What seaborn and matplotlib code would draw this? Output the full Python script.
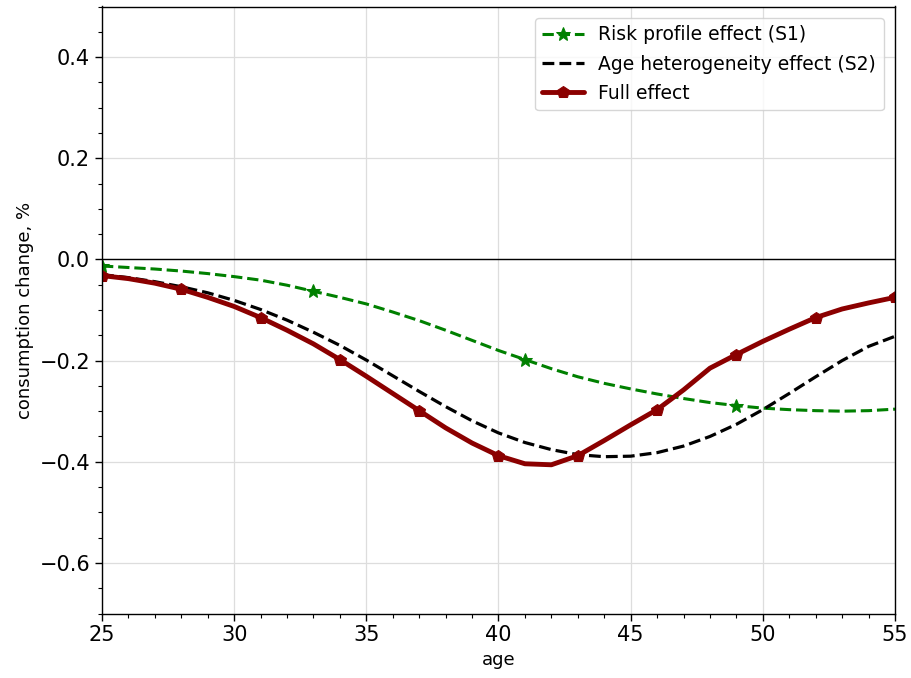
import matplotlib
matplotlib.use("Agg")
import matplotlib.pyplot as plt
import seaborn as sns
import pandas as pd
from matplotlib.ticker import MultipleLocator

ages = list(range(25, 56))

risk_profile_s1 = [-0.013, -0.016, -0.019, -0.023, -0.028, -0.034, -0.041, -0.051,
                   -0.063, -0.075, -0.088, -0.104, -0.121, -0.140, -0.160, -0.180,
                   -0.198, -0.216, -0.232, -0.245, -0.256, -0.266, -0.275, -0.283,
                   -0.289, -0.294, -0.297, -0.299, -0.300, -0.299, -0.296]

age_hetero_s2 = [-0.030, -0.036, -0.044, -0.054, -0.066, -0.081, -0.099, -0.120,
                 -0.144, -0.170, -0.199, -0.230, -0.261, -0.291, -0.319, -0.343,
                 -0.362, -0.376, -0.386, -0.390, -0.389, -0.382, -0.369, -0.350,
                 -0.326, -0.297, -0.265, -0.232, -0.200, -0.172, -0.152]

full_effect = [-0.032, -0.038, -0.047, -0.059, -0.075, -0.093, -0.115, -0.140,
               -0.167, -0.198, -0.231, -0.265, -0.299, -0.333, -0.363, -0.388,
               -0.404, -0.406, -0.388, -0.358, -0.327, -0.297, -0.258, -0.215,
               -0.188, -0.162, -0.138, -0.115, -0.098, -0.086, -0.075]

df = pd.DataFrame({"age": ages, "s1": risk_profile_s1,
                   "s2": age_hetero_s2, "full": full_effect})

sns.set_style("ticks")
plt.rcParams.update({
    "font.family": ["DejaVu Sans"],
    "text.color": "black",
    "axes.labelcolor": "black",
    "xtick.color": "black",
    "ytick.color": "black",
    "axes.edgecolor": "black",
})

fig = plt.figure(figsize=(9.11, 6.78), dpi=100)
ax = fig.add_axes([102 / 911, 1 - 613.5 / 678, (895 - 102) / 911, (613.5 - 6.5) / 678])

sns.lineplot(data=df, x="age", y="s1", ax=ax, color="green", lw=2.2,
             linestyle="--", marker="*", markersize=10, markevery=8,
             markeredgecolor="green", label="Risk profile effect (S1)")
sns.lineplot(data=df, x="age", y="s2", ax=ax, color="black", lw=2.3,
             linestyle="--", label="Age heterogeneity effect (S2)")
sns.lineplot(data=df, x="age", y="full", ax=ax, color="darkred", lw=3.5,
             marker="p", markersize=9, markevery=3,
             markeredgecolor="darkred", label="Full effect")

ax.axhline(0, color="black", lw=1)
ax.set_xlim(25, 55)
ax.set_ylim(-0.7, 0.5)
ax.set_yticks([-0.6, -0.4, -0.2, 0.0, 0.2, 0.4])
ax.set_yticklabels(["\u22120.6", "\u22120.4", "\u22120.2", "0.0", "0.2", "0.4"])
ax.xaxis.set_minor_locator(MultipleLocator(1))
ax.yaxis.set_minor_locator(MultipleLocator(0.05))
ax.grid(True, which="major", color="#dddddd", lw=0.9)
ax.set_axisbelow(True)
ax.tick_params(axis="both", which="major", labelsize=15, length=5, width=1)
ax.tick_params(axis="both", which="minor", length=3, width=0.8)
for s in ax.spines.values():
    s.set_linewidth(1.0)

ax.set_xlabel("age", fontsize=13)
ax.set_ylabel("consumption change, %", fontsize=13)

ax.legend(loc="upper right", fontsize=13.5, frameon=True, handlelength=2.2,
          labelspacing=0.55, borderaxespad=0.6)

fig.savefig("out.png", dpi=100)
